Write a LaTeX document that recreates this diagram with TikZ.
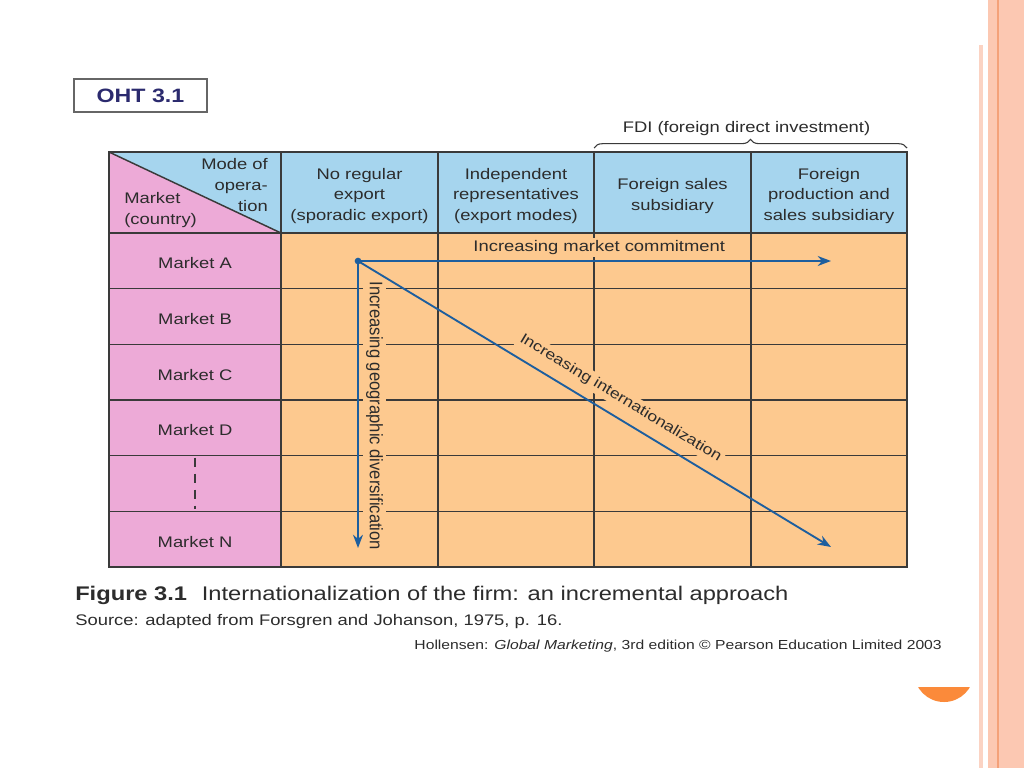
\documentclass[tikz,border=0pt]{standalone}
\usepackage{fontspec}
\setmainfont{Liberation Sans}[FakeStretch=1.2]
\newfontfamily\geofont{Liberation Sans}[FakeStretch=0.915]
\usepackage{tikz}
\usetikzlibrary{arrows.meta,positioning,decorations.pathreplacing}

\definecolor{headblue}{HTML}{A6D5EE}
\definecolor{marketpink}{HTML}{EDAAD7}
\definecolor{bodyorange}{HTML}{FDC98F}
\definecolor{gridgray}{HTML}{3A3A3A}
\definecolor{flowblue}{HTML}{1D5E9E}
\definecolor{ohtnavy}{HTML}{2B2A6E}
\definecolor{txtgray}{HTML}{2C2C2C}
\definecolor{stripepale}{HTML}{FBD3C3}
\definecolor{stripepeach}{HTML}{FCC8B2}
\definecolor{stripeline}{HTML}{F4A179}
\definecolor{dotorange}{HTML}{FB8A3A}

\begin{document}
\begin{tikzpicture}[x=0.75pt,y=-0.75pt,
  txt/.style={text=txtgray,font=\fontsize{11.5}{15.4}\selectfont},
  hcell/.style={draw=gridgray,line width=1.1pt,fill=headblue,
    minimum height=60.75pt,inner sep=0pt,outer sep=0pt},
  htext/.style={txt,align=center,inner sep=0pt,yshift=-2.5pt},
  mcell/.style={txt,draw=gridgray,line width=1.1pt,fill=marketpink,text height=12pt,text depth=0pt,
    minimum width=129pt,minimum height=41.75pt,inner sep=0pt,outer sep=0pt},
  gridline/.style={draw=gridgray,line width=1.1pt},
  flow/.style={draw=flowblue,line width=1.4pt,-{Stealth[length=10pt,width=7.5pt]}},
  lbl/.style={txt,fill=bodyorange,inner sep=2pt},
  dot/.style={circle,fill=flowblue,minimum size=5pt,inner sep=0pt}]

  \useasboundingbox[fill=white] (0,0) rectangle (1024,768);

  % slide edge
  \fill[stripepale] (979,45) rectangle (983,768);
  \fill[stripepeach] (988,0) rectangle (1024,768);
  \fill[stripeline] (997,0) rectangle (999,768);
  \begin{scope}
    \clip (900,687) rectangle (990,720);
    \fill[dotorange] (944,672) circle [radius=30];
  \end{scope}

  \node[draw=gray!80!black,line width=0.9pt,minimum width=99.75pt,minimum height=24.75pt,
    text=ohtnavy,font=\fontsize{14.5}{17}\selectfont\bfseries] (oht) at (140.5,95.5) {OHT 3.1};

  % header row
  \node[hcell,minimum width=129pt,fill=none,
    path picture={
      \fill[headblue] (path picture bounding box.north west) -- (path picture bounding box.north east)
        -- (path picture bounding box.south east) -- cycle;
      \fill[marketpink] (path picture bounding box.north west) -- (path picture bounding box.south east)
        -- (path picture bounding box.south west) -- cycle;
      \draw[gridline] (path picture bounding box.north west) -- (path picture bounding box.south east);
    }] (h0) at (195,192.5) {};
  \node[hcell,minimum width=117.75pt] (h1) [right=0pt of h0] {};
  \node[hcell,minimum width=117pt] (h2) [right=0pt of h1] {};
  \node[hcell,minimum width=117.75pt] (h3) [right=0pt of h2] {};
  \node[hcell,minimum width=117pt] (h4) [right=0pt of h3] {};
  \node[htext] (t1) at (h1.center) {No regular\\export\\(sporadic export)};
  \node[htext] (t2) at (h2.center) {Independent\\representatives\\(export modes)};
  \node[htext] (t3) at (h3.center) {Foreign sales\\subsidiary};
  \node[htext] (t4) at (h4.center) {Foreign\\production and\\sales subsidiary};

  \node[txt,align=right,anchor=east,inner sep=0pt] (mode) at ([xshift=-9.75pt,yshift=5.6pt]h0.east) {Mode of\\opera-\\tion};
  \node[txt,align=left,anchor=west,inner sep=0pt] (market) at ([xshift=11.25pt,yshift=-13pt]h0.west) {Market\\(country)};

  % market column
  \node[mcell] (mA) [below=0pt of h0] {Market A};
  \node[mcell] (mB) [below=0pt of mA] {Market B};
  \node[mcell] (mC) [below=0pt of mB] {Market C};
  \node[mcell] (mD) [below=0pt of mC] {Market D};
  \node[mcell] (mE) [below=0pt of mD] {};
  \node[mcell] (mN) [below=0pt of mE] {Market N};
  \draw[draw=gridgray,line width=0.8pt,dash pattern=on 6.75pt off 5.25pt]
    ([yshift=-1.5pt]mE.north) -- ([yshift=2pt]mE.south);

  % body
  \fill[bodyorange] (h1.south west) rectangle (h4.south east |- mN.south);
  \draw[gridline] (mA.south east) -- (mA.south east -| h4.east)
    (mB.south east) -- (mB.south east -| h4.east)
    (mC.south east) -- (mC.south east -| h4.east)
    (mD.south east) -- (mD.south east -| h4.east)
    (mE.south east) -- (mE.south east -| h4.east)
    (h1.south east) -- (h1.south east |- mN.south)
    (h2.south east) -- (h2.south east |- mN.south)
    (h3.south east) -- (h3.south east |- mN.south);
  \draw[gridline] (h1.south west) rectangle (h4.south east |- mN.south);

  % FDI brace
  \draw[draw=gridgray,line width=0.8pt,decorate,decoration={brace,amplitude=6.5pt}]
    ([yshift=3pt]h3.north west) -- ([yshift=3pt]h4.north east)
    node[txt,midway,above=9pt,xshift=-3pt,inner sep=0pt] (fdi) {FDI (foreign direct investment)};

  % arrows
  \node[dot] (origin) at (358,261) {};
  \coordinate (commitEnd) at (831,261);
  \coordinate (geoEnd) at (358,548);
  \coordinate (intlEnd) at (831,547);
  \draw[flow] (origin.center) -- (commitEnd)
    node[lbl,pos=0.51,above=2pt] (commit) {Increasing market commitment};
  \draw[flow] (origin.center) -- (geoEnd)
    node[lbl,pos=0.54,sloped,above=3.3pt,font=\geofont\fontsize{13.6}{16}\selectfont] (geo) {Increasing geographic diversification};
  \draw[flow] (origin.center) -- (intlEnd)
    node[lbl,pos=0.535,sloped,above=6pt,font=\fontsize{11}{14}\selectfont] (intl) {Increasing internationalization};

  % caption
  \node[anchor=base west,inner sep=0pt,text=txtgray,font=\fontsize{14.8}{18}\selectfont] (caption) at (75,600)
    {\textbf{Figure 3.1}\hspace{11pt}Internationalization of the firm: an incremental approach};
  \node[anchor=base west,inner sep=0pt,text=txtgray,font=\fontsize{11.5}{14}\selectfont] (source) at (75,625)
    {Source: adapted from Forsgren and Johanson, 1975, p. 16.};
  \node[anchor=base east,inner sep=0pt,text=txtgray,font=\fontsize{9.8}{12}\selectfont] (credit) at (942,649)
    {Hollensen: \textit{Global Marketing}, 3rd edition © Pearson Education Limited 2003};
\end{tikzpicture}
\end{document}
